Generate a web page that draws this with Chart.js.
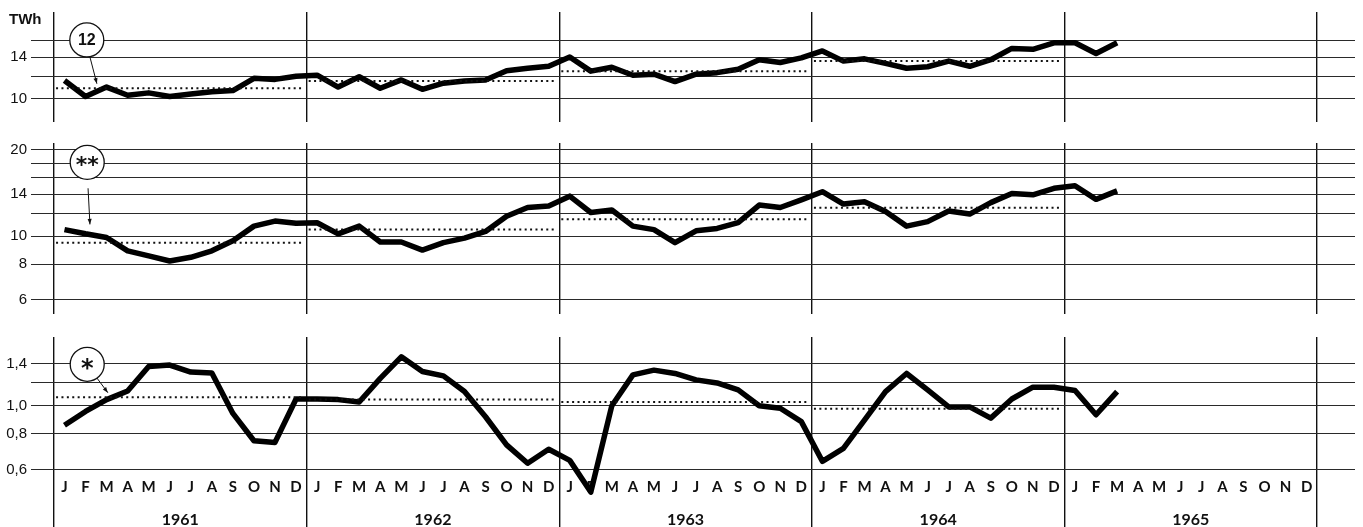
<!DOCTYPE html>
<html>
<head>
<meta charset="utf-8">
<script src="https://cdn.jsdelivr.net/npm/chart.js@4.4.1/dist/chart.umd.min.js"></script>
<style>
  html, body { margin: 0; padding: 0; background: #fff; }
  #wrap { position: relative; width: 1363px; height: 527px; overflow: hidden; }
  .panel { position: absolute; left: 0; width: 1363px; }
</style>
</head>
<body>
<div id="wrap">
  <div class="panel" style="top:0;height:124px"><canvas id="c-top"></canvas></div>
  <div class="panel" style="top:124px;height:192px"><canvas id="c-mid"></canvas></div>
  <div class="panel" style="top:316px;height:211px"><canvas id="c-bot"></canvas></div>
</div>
<script>
// ---- data (monthly, Jan 1961 .. Mar 1965) ----
const monthLetters = ['J', 'F', 'M', 'A', 'M', 'J', 'J', 'A', 'S', 'O', 'N', 'D'];
const years = ['1961', '1962', '1963', '1964', '1965'];

// panel (12) - TWh
const seriesTop = [
  11.6, 10.2, 11.0, 10.3, 10.5, 10.2, 10.4, 10.6, 10.7, 11.8, 11.7, 12.0,
  12.1, 11.0, 11.95, 10.9, 11.65, 10.8, 11.35, 11.55, 11.65, 12.55, 12.8, 13.0,
  14.0, 12.5, 12.9, 12.1, 12.2, 11.5, 12.2, 12.35, 12.7, 13.7, 13.4, 13.9,
  14.7, 13.55, 13.8, 13.3, 12.8, 12.95, 13.55, 13.0, 13.7, 15.0, 14.9, 15.7,
  15.7, 14.4, 15.7
];
// panel (**)
const seriesMid = [
  10.55, 10.2, 9.9, 8.9, 8.55, 8.2, 8.45, 8.9, 9.65, 10.85, 11.3, 11.1,
  11.15, 10.2, 10.85, 9.55, 9.55, 8.95, 9.5, 9.85, 10.4, 11.75, 12.6, 12.75,
  13.8, 12.1, 12.35, 10.85, 10.55, 9.5, 10.45, 10.65, 11.15, 12.85, 12.6, 13.4,
  14.3, 12.95, 13.2, 12.2, 10.85, 11.25, 12.25, 11.95, 13.1, 14.1, 13.95, 14.7,
  15.0, 13.45, 14.4
];
// panel (*)
const seriesBot = [
  0.855, 0.955, 1.05, 1.125, 1.37, 1.385, 1.31, 1.30, 0.94, 0.755, 0.745, 1.055,
  1.055, 1.05, 1.03, 1.245, 1.48, 1.315, 1.27, 1.12, 0.915, 0.73, 0.63, 0.705,
  0.645, 0.5, 1.0, 1.28, 1.33, 1.295, 1.23, 1.2, 1.135, 1.0, 0.98, 0.88,
  0.64, 0.71, 0.89, 1.12, 1.295, 1.135, 0.99, 0.99, 0.905, 1.055, 1.16, 1.16,
  1.13, 0.93, 1.12
];

// yearly averages (dotted)
const avgTop = [10.9, 11.55, 12.5, 13.56];
const avgMid = [9.5, 10.55, 11.47, 12.57];
const avgBot = [1.07, 1.05, 1.03, 0.975];

// horizontal rules and their labels
const gridTop = [10, 12, 14, 16];
const labelsTop = ['10', '', '14', ''];
const gridMid = [6, 8, 10, 12, 14, 16, 18, 20];
const labelsMid = ['6', '8', '10', '', '14', '', '', '20'];
const gridBot = [0.6, 0.8, 1.0, 1.2, 1.4];
const labelsBot = ['0,6', '0,8', '1,0', '', '1,4'];

// ---- shared layout bits ----
const X_MIN = -1.59, X_MAX = 61.3;
const yearEdges = years.map((_, i) => i * 12 - 0.5).concat([years.length * 12 - 0.5]);
const isEdge = v => !Number.isInteger(v);
const INK = '#111';

Chart.defaults.font.family = '"Liberation Sans", Arial, sans-serif';
Chart.defaults.color = INK;

// circled panel markers + unit label
const noteLayer = {
  id: 'noteLayer',
  afterDraw(chart, args, opts) {
    const { ctx } = chart;
    const xs = chart.scales.x, ys = chart.scales.y;
    ctx.save();
    if (opts.unit) {
      ctx.font = 'bold 15px "Liberation Sans", Arial, sans-serif';
      ctx.fillStyle = INK;
      ctx.textAlign = 'left';
      ctx.textBaseline = 'middle';
      ctx.fillText(opts.unit, 9, ys.getPixelForValue(opts.unitAt));
    }
    const m = opts.mark;
    if (m) {
      const ax = xs.getPixelForValue(m.from[0]), ay = ys.getPixelForValue(m.from[1]);
      const bx = xs.getPixelForValue(m.to[0]), by = ys.getPixelForValue(m.to[1]);
      ctx.strokeStyle = INK;
      ctx.lineWidth = 1;
      ctx.beginPath(); ctx.moveTo(ax, ay); ctx.lineTo(bx, by); ctx.stroke();
      const ang = Math.atan2(by - ay, bx - ax);
      ctx.beginPath();
      ctx.moveTo(bx, by);
      ctx.lineTo(bx - 6 * Math.cos(ang - 0.35), by - 6 * Math.sin(ang - 0.35));
      ctx.lineTo(bx - 6 * Math.cos(ang + 0.35), by - 6 * Math.sin(ang + 0.35));
      ctx.closePath();
      ctx.fillStyle = INK;
      ctx.fill();

      const cx = xs.getPixelForValue(m.at[0]), cy = ys.getPixelForValue(m.at[1]);
      ctx.beginPath();
      ctx.arc(cx, cy, m.r, 0, Math.PI * 2);
      ctx.fillStyle = '#fff';
      ctx.fill();
      ctx.lineWidth = 1.3;
      ctx.strokeStyle = INK;
      ctx.stroke();
      ctx.fillStyle = INK;
      ctx.font = m.font;
      ctx.textAlign = 'center';
      ctx.textBaseline = 'middle';
      ctx.fillText(m.text, cx, cy + (m.dy || 0));
    }
    ctx.restore();
  }
};

function yScale(min, max, ticks, labels) {
  return {
    type: 'logarithmic',
    min: min,
    max: max,
    afterBuildTicks: s => { s.ticks = ticks.map(v => ({ value: v })); },
    ticks: {
      autoSkip: false,
      padding: 4,
      font: { size: 15 },
      color: INK,
      callback: (v, i) => labels[i]
    },
    grid: { color: '#2a2a2a', lineWidth: 1, drawTicks: false },
    border: { display: false },
    afterFit: s => {
      s.width = 31;
      // labels sit well inside the area, no need for edge padding
      s.paddingTop = 0;
      s.paddingBottom = 0;
    }
  };
}

function plainX() {
  return {
    type: 'linear',
    min: X_MIN,
    max: X_MAX,
    afterBuildTicks: s => { s.ticks = yearEdges.map(v => ({ value: v })); },
    ticks: { display: false },
    grid: { color: INK, lineWidth: 1.4, drawTicks: false },
    border: { display: false },
    afterFit: s => { s.height = 0; }
  };
}

function monthX() {
  const vals = [];
  yearEdges.forEach(v => vals.push(v));
  for (let i = 0; i < years.length * 12; i++) vals.push(i);
  vals.sort((a, b) => a - b);
  return {
    type: 'linear',
    min: X_MIN,
    max: X_MAX,
    weight: 0,
    afterBuildTicks: s => { s.ticks = vals.map(v => ({ value: v })); },
    ticks: {
      autoSkip: false,
      maxRotation: 0,
      padding: -50,
      font: { family: 'Lato, "Liberation Sans", sans-serif', weight: 'bold', size: 15 },
      color: INK,
      callback: v => isEdge(v) ? '' : monthLetters[v % 12]
    },
    grid: {
      color: c => (c.tick && isEdge(c.tick.value)) ? INK : 'rgba(0,0,0,0)',
      tickColor: c => (c.tick && isEdge(c.tick.value)) ? INK : 'rgba(0,0,0,0)',
      lineWidth: 1.4,
      tickLength: 56
    },
    border: { display: false },
    afterFit: s => { s.height = 30; }
  };
}

function yearX() {
  return {
    type: 'linear',
    axis: 'x',
    position: 'bottom',
    min: X_MIN,
    max: X_MAX,
    weight: 1,
    afterBuildTicks: s => { s.ticks = years.map((_, i) => ({ value: i * 12 + 5.5 })); },
    ticks: {
      autoSkip: false,
      maxRotation: 0,
      padding: 0,
      font: { family: 'Lato, "Liberation Sans", sans-serif', weight: 'bold', size: 16 },
      color: INK,
      callback: (v, i) => years[i]
    },
    grid: { display: false },
    border: { display: false },
    afterFit: s => { s.height = 25; }
  };
}

function buildPanel(canvasId, series, avg, scales, padding, notes) {
  const datasets = avg.map((v, k) => ({
    data: [{ x: k * 12 - 0.4, y: v }, { x: k * 12 + 11.3, y: v }],
    borderColor: INK,
    borderWidth: 2,
    borderDash: [2, 3.4],
    pointRadius: 0
  }));
  datasets.push({
    data: series.map((v, i) => ({ x: i, y: v })),
    borderColor: '#000',
    borderWidth: 5.5,
    borderJoinStyle: 'round',
    pointRadius: 0,
    tension: 0,
    clip: false
  });

  return new Chart(document.getElementById(canvasId), {
    type: 'line',
    data: { datasets: datasets },
    options: {
      responsive: true,
      maintainAspectRatio: false,
      animation: false,
      layout: { padding: padding },
      scales: scales,
      plugins: {
        legend: { display: false },
        tooltip: { enabled: false },
        noteLayer: notes
      }
    },
    plugins: [noteLayer]
  });
}

buildPanel('c-top', seriesTop, avgTop,
  { x: plainX(), y: yScale(8.31, 20.1, gridTop, labelsTop) },
  { top: 12, bottom: 2, left: 0, right: 8 },
  {
    unit: 'TWh', unitAt: 18.85,
    mark: { text: '12', at: [1.06, 16.06], r: 17, from: [1.21, 14.0], to: [1.54, 11.3],
            font: 'bold 16px "Liberation Sans", Arial, sans-serif', dy: 1 }
  });

buildPanel('c-mid', seriesMid, avgMid,
  { x: plainX(), y: yScale(5.36, 21.14, gridMid, labelsMid) },
  { top: 19, bottom: 2, left: 0, right: 8 },
  {
    mark: { text: '**', at: [1.08, 18.1], r: 17, from: [1.12, 14.7], to: [1.21, 11.0],
            font: 'bold 22px "DejaVu Sans", sans-serif', dy: 4 }
  });

buildPanel('c-bot', seriesBot, avgBot,
  { x: monthX(), yr: yearX(), y: yScale(0.5875, 1.735, gridBot, labelsBot) },
  { top: 21, bottom: 0, left: 0, right: 8 },
  {
    mark: { text: '*', at: [1.08, 1.394], r: 17, from: [1.5, 1.26], to: [2.06, 1.11],
            font: 'bold 24px "DejaVu Sans", sans-serif', dy: 5 }
  });
</script>
</body>
</html>
